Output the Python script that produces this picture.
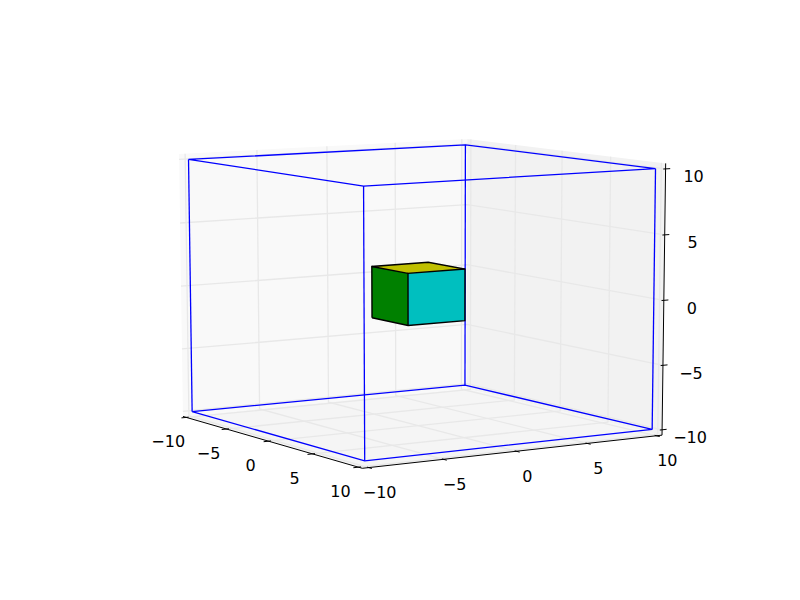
import numpy as np, pandas as pd, altair as alt

TICKS = [-10, -5, 0, 5, 10]
LABELS = ["\u221210", "\u22125", "0", "5", "10"]
LIMIT = 10
B = 10.4167              # pane edge, in data units
IN, OUT = 0.167, 0.333   # tick reach, in data units
CUBE_X = [-1.41, 2.59]
CUBE_Y = [-2.37, 1.63]
CUBE_Z = [-1.91, 2.09]
CAMERA = np.array([[7.27624, 15.17804, -0.32691, 418.13530],
                   [0.54392, -0.36536, -13.03812, 293.15405],
                   [-0.0042892, 0.0025835, -0.0007520, 1.0]])
COLORS = {"px": "#f9f9f9", "py": "#f2f2f2", "pz": "#f5f5f5",
          "green": "#008000", "cyan": "#00bfbf", "yellow": "#bfbf00"}


def proj(p):
    h = CAMERA @ np.array([p[0], p[1], p[2], 1.0])
    return h[0] / h[2], h[1] / h[2]


X0, X1 = CUBE_X
Y0, Y1 = CUBE_Y
Z0, Z1 = CUBE_Z
L = LIMIT

lines = {"grid": [], "axis": [], "blue": [], "cube": []}
for t in TICKS:
    lines["grid"].append([(t, -B, -B), (t, B, -B), (t, B, B)])
    lines["grid"].append([(B, t, -B), (-B, t, -B), (-B, t, B)])
    lines["grid"].append([(-B, -B, t), (-B, B, t), (B, B, t)])
    lines["axis"].append([(t, -B + IN, -B), (t, -B - OUT, -B)])
    lines["axis"].append([(B - IN, t, -B), (B + OUT, t, -B)])
    lines["axis"].append([(B, B - IN, t), (B, B + OUT, t)])
lines["axis"].append([(-B, -B, -B), (B, -B, -B), (B, B, -B), (B, B, B)])
lines["blue"] += [
    [(-L, -L, -L), (L, -L, -L), (L, L, -L), (-L, L, -L), (-L, -L, -L)],
    [(-L, -L, L), (L, -L, L), (L, L, L), (-L, L, L), (-L, -L, L)],
    [(-L, -L, -L), (-L, -L, L)], [(L, -L, -L), (L, -L, L)],
    [(L, L, -L), (L, L, L)], [(-L, L, -L), (-L, L, L)],
]
lines["cube"] += [
    [(X0, Y0, Z0), (X1, Y0, Z0), (X1, Y1, Z0), (X1, Y1, Z1), (X0, Y1, Z1), (X0, Y0, Z1), (X0, Y0, Z0)],
    [(X1, Y0, Z0), (X1, Y0, Z1), (X1, Y1, Z1)],
    [(X0, Y0, Z1), (X1, Y0, Z1)],
]


def line_df(key):
    rows = []
    for i, pts in enumerate(lines[key]):
        for n, p in enumerate(pts):
            u, v = proj(p)
            rows.append(dict(id=i, n=n, u=u, v=v))
    return pd.DataFrame(rows)


def poly_df(name, pts):
    sc = [proj(p) for p in pts]
    rows = []
    m = len(sc)
    for x in sorted({a for a, _ in sc}):
        ys = []
        for i in range(m):
            (a, b), (c, d) = sc[i], sc[(i + 1) % m]
            if min(a, c) <= x <= max(a, c):
                ys += [b, d] if a == c else [b + (d - b) * (x - a) / (c - a)]
        rows.append(dict(name=name, u=x, v=min(ys), v2=max(ys)))
    return pd.DataFrame(rows)


panes = pd.concat([
    poly_df("px", [(-B, -B, -B), (-B, B, -B), (-B, B, B), (-B, -B, B)]),
    poly_df("py", [(-B, B, -B), (B, B, -B), (B, B, B), (-B, B, B)]),
    poly_df("pz", [(-B, -B, -B), (B, -B, -B), (B, B, -B), (-B, B, -B)]),
])
faces = pd.concat([
    poly_df("green", [(X0, Y0, Z0), (X1, Y0, Z0), (X1, Y0, Z1), (X0, Y0, Z1)]),
    poly_df("cyan", [(X1, Y0, Z0), (X1, Y1, Z0), (X1, Y1, Z1), (X1, Y0, Z1)]),
    poly_df("yellow", [(X0, Y0, Z1), (X1, Y0, Z1), (X1, Y1, Z1), (X0, Y1, Z1)]),
])

x_scale = alt.Scale(domain=[8, 792], range=[0, 784], nice=False, zero=False)
y_scale = alt.Scale(domain=[8, 592], range=[0, 584], nice=False, zero=False)
X = alt.X("u:Q", scale=x_scale, axis=None)
Y = alt.Y("v:Q", scale=y_scale, axis=None)


def area(df):
    return alt.Chart(df).mark_area(interpolate="linear").encode(
        x=X, y=Y, y2="v2:Q",
        color=alt.Color("name:N", legend=None,
                        scale=alt.Scale(domain=list(COLORS), range=list(COLORS.values()))))


def line(key, color, w):
    return alt.Chart(line_df(key)).mark_line(color=color, strokeWidth=w, strokeJoin="miter").encode(
        x=X, y=Y, detail="id:N", order="n:Q")


def labels(points, dx, dy):
    df = pd.DataFrame([dict(u=proj(p)[0], v=proj(p)[1], t=l) for p, l in zip(points, LABELS)])
    return alt.Chart(df).mark_text(font="DejaVu Sans", fontSize=16, color="black", dx=dx, dy=dy,
                                   align="center", baseline="middle").encode(x=X, y=Y, text="t:N")


chart = alt.layer(
    area(panes),
    line("grid", "#e8e8e8", 1.3),
    line("blue", "#0000ff", 1.3),
    area(faces),
    line("cube", "black", 1.4),
    line("axis", "black", 1.0),
    labels([(t, -B, -B) for t in TICKS], -18, 25),
    labels([(B, t, -B) for t in TICKS], 11, 25.5),
    labels([(B, B, t) for t in TICKS], 28, 8.5),
).properties(width=784, height=584, padding=0,
             autosize=alt.AutoSizeParams(type="none")).configure_view(stroke=None)
chart.save("out.html", embed_options={"renderer": "svg", "actions": False})
